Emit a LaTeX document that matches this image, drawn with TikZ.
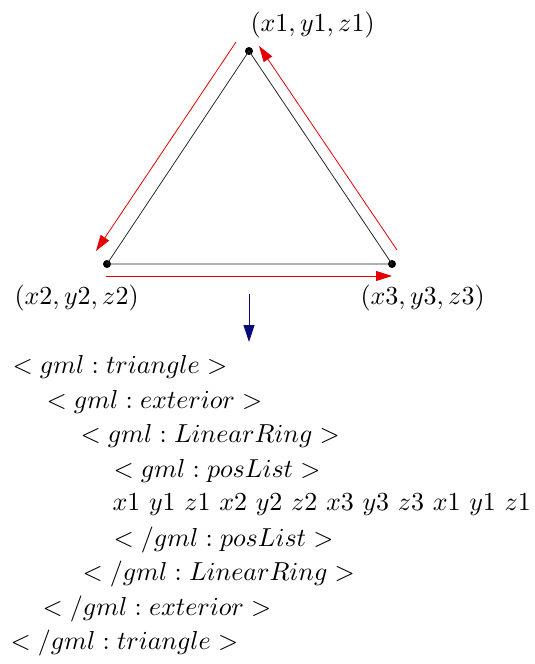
\documentclass[tikz,border=0pt]{standalone}
\usetikzlibrary{arrows.meta,calc}
\definecolor{arrred}{RGB}{228,0,0}
\definecolor{arrblue}{RGB}{10,10,120}
\begin{document}
\begin{tikzpicture}[x=1pt,y=-1pt,
  vdot/.style={circle,fill=black,inner sep=0pt,minimum size=8pt},
  edge/.style={draw=black!85,line width=0.8pt},
  redarrow/.style={draw=arrred,line width=0.8pt,-{Triangle[length=16pt,width=10pt]}},
  bluearrow/.style={draw=arrblue,line width=0.9pt,-{Triangle[length=17pt,width=11pt]}},
  lbl/.style={anchor=west,inner sep=0pt,scale=2.6},
  code/.style={anchor=west,inner sep=0pt,scale=2.6}]
\useasboundingbox (0,0) rectangle (535,664);
% vertices
\node[vdot] (p1) at (249,51) {};
\node[vdot] (p2) at (107,264) {};
\node[vdot] (p3) at (392,264) {};
% triangle
\draw[edge] (p1.center) -- (p2.center) -- (p3.center) -- cycle;
% labels
\node[lbl] (l1) at (250,25) {$(x1,y1,z1)$};
\node[lbl] (l2) at (14,298) {$(x2,y2,z2)$};
\node[lbl] (l3) at (360,298) {$(x3,y3,z3)$};
% red direction arrows
\coordinate (r1s) at (236,42);
\coordinate (r1e) at (96,251);
\coordinate (r2s) at (106,276);
\coordinate (r2e) at (392,276);
\coordinate (r3s) at (397,250);
\coordinate (r3e) at (259,46);
\draw[redarrow] (r1s) -- (r1e);
\draw[redarrow] (r2s) -- (r2e);
\draw[redarrow] (r3s) -- (r3e);
% blue arrow
\coordinate (bs) at (249,294);
\coordinate (be) at (249,342);
\draw[bluearrow] (bs) -- (be);
% GML code
\node[code] (c1) at (12,367) {$<gml:triangle>$};
\node[code] (c2) at (46,402) {$<gml:exterior>$};
\node[code] (c3) at (80,436) {$<gml:LinearRing>$};
\node[code] (c4) at (113,471) {$<gml:posList>$};
\node[code] (c5) at (112,505) {$x1\ y1\ z1\ x2\ y2\ z2\ x3\ y3\ z3\ x1\ y1\ z1$};
\node[code] (c6) at (113,540) {$</gml:posList>$};
\node[code] (c7) at (82,574) {$</gml:LinearRing>$};
\node[code] (c8) at (42,609) {$</gml:exterior>$};
\node[code] (c9) at (10,643) {$</gml:triangle>$};
\end{tikzpicture}
\end{document}
